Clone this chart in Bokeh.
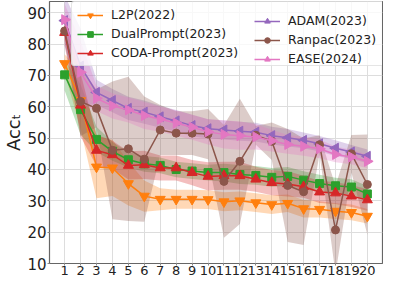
from bokeh.plotting import figure
from bokeh.models import Range1d, FixedTicker, Legend, LegendItem
from bokeh.embed import file_html
from bokeh.resources import INLINE

tasks = list(range(1, 21))

l2p = [73.8, 62.0, 40.8, 40.5, 35.5, 31.5, 30.5, 30.5, 30.5, 30.4, 29.7, 30.0, 29.4, 28.8, 29.2, 27.5, 27.3, 26.7, 26.3, 25.1]
l2p_std = [3.0, 9.0, 10.0, 9.0, 7.0, 5.0, 3.5, 3.0, 3.0, 3.0, 3.0, 3.0, 3.0, 3.0, 2.8, 2.8, 2.6, 2.5, 2.5, 2.3]

dual = [70.2, 59.1, 49.6, 45.8, 43.1, 41.8, 41.3, 40.0, 39.5, 39.0, 39.0, 38.4, 38.1, 37.5, 37.8, 36.6, 35.5, 34.8, 34.4, 32.2]
dual_std = [5.0, 8.0, 4.0, 3.0, 2.5, 2.5, 2.5, 2.5, 2.5, 2.5, 2.8, 3.0, 3.0, 3.0, 3.0, 2.8, 2.8, 2.6, 2.5, 2.5]

coda = [83.7, 60.5, 46.1, 44.7, 41.3, 41.5, 40.5, 40.5, 39.0, 37.8, 38.0, 38.0, 36.9, 35.8, 35.4, 34.5, 32.8, 32.5, 31.5, 30.3]
coda_std = [4.0, 10.0, 5.0, 4.5, 4.5, 4.5, 4.0, 4.0, 4.0, 4.5, 4.5, 4.5, 4.0, 4.0, 4.0, 3.5, 3.5, 3.5, 3.5, 3.5]

adam = [87.5, 73.0, 64.6, 62.0, 59.5, 58.3, 56.8, 55.5, 54.0, 53.0, 52.6, 52.2, 51.9, 50.8, 50.1, 49.3, 48.2, 46.8, 45.6, 44.2]
adam_std = [8.0, 12.0, 4.0, 3.7, 3.7, 3.7, 3.5, 3.5, 3.5, 3.0, 3.0, 3.0, 3.0, 2.8, 2.8, 2.5, 2.5, 2.5, 2.2, 2.2]

ranpac = [84.2, 61.7, 59.5, 46.1, 46.6, 43.3, 52.6, 51.6, 51.6, 51.3, 36.2, 42.6, 50.9, 49.0, 34.9, 32.9, 47.9, 20.7, 45.0, 35.2]
ranpac_std = [3.0, 11.0, 6.0, 22.0, 23.0, 20.0, 8.0, 7.0, 7.0, 8.0, 18.0, 20.0, 3.0, 6.0, 18.0, 17.0, 3.0, 14.0, 6.0, 16.0]

ease = [87.8, 71.0, 62.7, 60.3, 59.0, 57.2, 56.0, 54.8, 53.5, 52.0, 51.2, 50.8, 50.4, 49.2, 48.0, 47.4, 46.6, 44.8, 44.0, 42.6]
ease_std = [5.0, 10.0, 4.0, 4.0, 4.0, 4.3, 4.0, 4.0, 4.0, 4.0, 4.5, 4.5, 4.0, 3.5, 3.0, 3.0, 3.0, 2.5, 2.3, 2.2]

labels = ["L2P(2022)", "DualPrompt(2023)", "CODA-Prompt(2023)", "ADAM(2023)", "Ranpac(2023)", "EASE(2024)"]
series = [l2p, dual, coda, adam, ranpac, ease]
stds = [l2p_std, dual_std, coda_std, adam_std, ranpac_std, ease_std]
colors = ["#ff7f0e", "#2ca02c", "#d62728", "#9467bd", "#8c564b", "#e377c2"]
markers = [("inverted_triangle", 0.0, 10), ("square", 0.0, 8), ("triangle", 0.0, 10),
           ("triangle", 1.5708, 10), ("circle", 0.0, 8), ("triangle", -1.5708, 10)]

p = figure(width=383, height=277, output_backend="svg", toolbar_location=None,
           x_range=Range1d(0.05, 20.95), y_range=Range1d(10, 93.6),
           min_border_left=42, min_border_right=1, min_border_top=1, min_border_bottom=14)

p.background_fill_color = "white"
p.outline_line_color = "#666666"
p.outline_line_width = 1.2
p.xgrid.grid_line_color = "#dddddd"
p.ygrid.grid_line_color = "#dddddd"
p.xaxis.ticker = FixedTicker(ticks=tasks)
p.yaxis.ticker = FixedTicker(ticks=[10, 20, 30, 40, 50, 60, 70, 80, 90])
p.xgrid.ticker = FixedTicker(ticks=tasks)
for ax in (p.xaxis, p.yaxis):
    ax.axis_line_color = None
    ax.major_tick_line_color = "#888888"
    ax.minor_tick_line_color = None
    ax.major_tick_out = 2
    ax.major_tick_in = 0
    ax.major_label_text_font = "DejaVu Sans"
    ax.major_label_text_color = "#222222"
p.xaxis.major_label_standoff = 0
p.yaxis.major_label_standoff = 1
p.xaxis.major_label_text_font_size = "13px"
p.yaxis.major_label_text_font_size = "15px"
p.yaxis.axis_label = "Accₜ"
p.yaxis.axis_label_text_font = "DejaVu Sans"
p.yaxis.axis_label_text_font_size = "18px"
p.yaxis.axis_label_text_font_style = "normal"
p.yaxis.axis_label_text_color = "#222222"
p.yaxis.axis_label_standoff = 0

items = []
for s, sd, c, (m, ang, sz), lab in zip(series, stds, colors, markers, labels):
    lo = [a - b for a, b in zip(s, sd)]
    hi = [a + b for a, b in zip(s, sd)]
    p.varea(x=tasks, y1=lo, y2=hi, fill_color=c, fill_alpha=0.3)
for s, sd, c, (m, ang, sz), lab in zip(series, stds, colors, markers, labels):
    r1 = p.line(tasks, s, line_color=c, line_width=1.5)
    r2 = p.scatter(tasks, s, marker=m, angle=ang, size=sz, fill_color=c, line_color=c)
    items.append(LegendItem(label=lab, renderers=[r1, r2]))


def style(lg):
    lg.label_text_font = "DejaVu Sans"
    lg.label_text_font_size = "12.5px"
    lg.label_text_color = "#222222"
    lg.glyph_width = 26
    lg.glyph_height = 14
    lg.label_height = 14
    lg.label_standoff = 8
    lg.spacing = 4
    lg.padding = 5
    lg.margin = 0


legend1 = Legend(items=items[:3], location=(22, 197))
style(legend1)
legend1.label_width = 272
legend1.border_line_color = "#cccccc"
legend1.border_radius = 3
legend1.background_fill_alpha = 0.8
legend2 = Legend(items=items[3:], location=(205, 197))
style(legend2)
legend2.border_line_color = None
legend2.background_fill_alpha = 0.0
p.add_layout(legend1, "center")
p.add_layout(legend2, "center")

open("out.html", "w").write(file_html(p, INLINE))
